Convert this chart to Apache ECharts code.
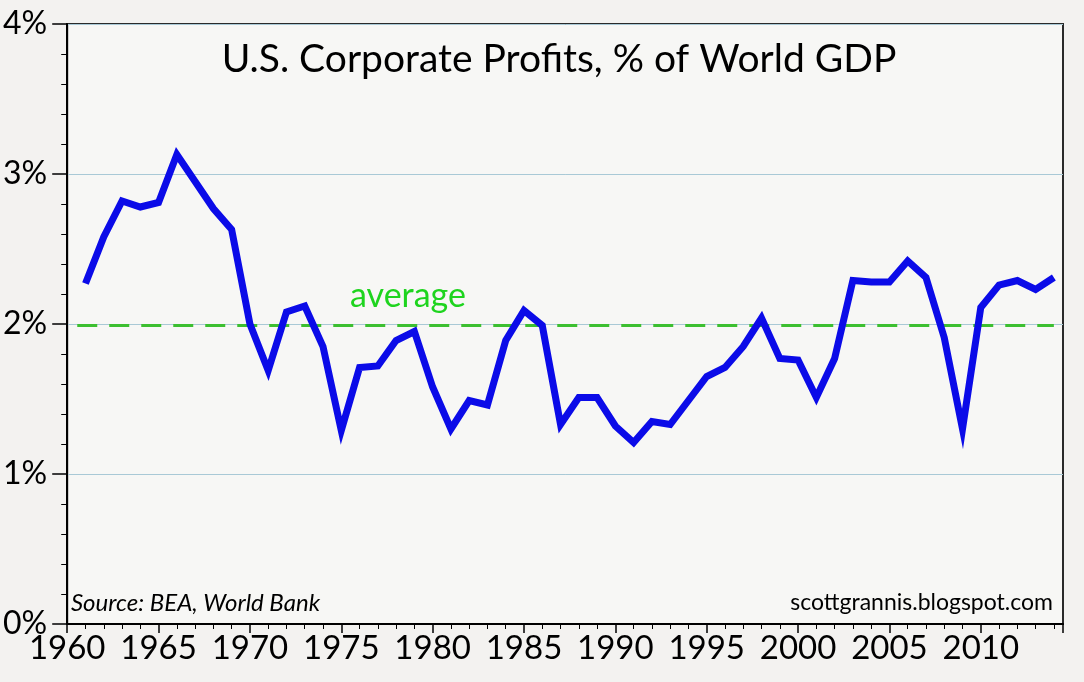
<!DOCTYPE html>
<html>
<head>
<meta charset="utf-8">
<script src="https://cdn.jsdelivr.net/npm/echarts@6/dist/echarts.min.js"></script>
<style>
  html, body { margin: 0; padding: 0; background: #f3f2f0; }
  #chart { width: 1084px; height: 682px; }
</style>
</head>
<body>
<div id="chart"></div>
<script>
// values, % of world GDP, one per year from 1961
const firstYear = 1961;
const profitShare = [
  2.27, 2.58, 2.82, 2.78, 2.81, 3.13, 2.95, 2.77, 2.63, 2.00,
  1.69, 2.08, 2.12, 1.85, 1.29, 1.71, 1.72, 1.89, 1.95, 1.58,
  1.30, 1.49, 1.46, 1.89, 2.09, 1.99, 1.33, 1.51, 1.51, 1.32,
  1.21, 1.35, 1.33, 1.49, 1.65, 1.71, 1.85, 2.04, 1.77, 1.76,
  1.51, 1.77, 2.29, 2.28, 2.28, 2.42, 2.31, 1.91, 1.30, 2.11,
  2.26, 2.29, 2.23, 2.31
];
const years = profitShare.map((v, i) => firstYear + i);

// dashed average line
const averageValue = 1.99;
const averageSpan = [1960.55, 2014];

const titleText = "U.S. Corporate Profits, % of World GDP";
const sourceText = "Source: BEA, World Bank";
const siteText = "scottgrannis.blogspot.com";
const averageText = "average";

const FONT = "Lato, 'Open Sans', sans-serif";

const chart = echarts.init(document.getElementById("chart"), null, { renderer: "canvas" });

const option = {
  backgroundColor: "#f3f2f0",
  animation: false,
  grid: {
    left: 63, right: 21, top: 24, bottom: 58,
    show: true,
    backgroundColor: "#f7f7f5",
    borderColor: "#2a2a2a",
    borderWidth: 2
  },
  xAxis: {
    type: "value",
    min: 1960,
    max: 2014.5,
    interval: 5,
    axisLine: { show: true, onZero: false, lineStyle: { color: "#000", width: 2 } },
    axisTick: { show: true, inside: false, length: 9, lineStyle: { color: "#000", width: 1.5 } },
    minorTick: { show: true, splitNumber: 5, length: 5, lineStyle: { color: "#000", width: 1 } },
    splitLine: { show: false },
    axisLabel: {
      color: "#000", fontFamily: FONT, fontSize: 33, margin: 8,
      showMaxLabel: false,
      formatter: v => String(v)
    }
  },
  yAxis: {
    type: "value",
    min: 0,
    max: 4,
    interval: 1,
    axisLine: { show: true, lineStyle: { color: "#000", width: 2 } },
    axisTick: { show: true, inside: false, length: 15, lineStyle: { color: "#000", width: 1.5 } },
    minorTick: { show: true, splitNumber: 5, length: 6, lineStyle: { color: "#000", width: 1 } },
    splitLine: { show: true, lineStyle: { color: "#a9c9d6", width: 1 } },
    axisLabel: {
      color: "#000", fontFamily: FONT, fontSize: 32, margin: 20,
      formatter: "{value}%"
    }
  },
  series: [
    {
      name: "average",
      type: "line",
      data: averageSpan.map(x => [x, averageValue]),
      symbol: "none",
      lineStyle: { color: "#3cbf30", width: 3, type: [20, 12] },
      z: 2
    },
    {
      name: "profits",
      type: "line",
      data: years.map((y, i) => [y, profitShare[i]]),
      symbol: "none",
      lineStyle: { color: "#0b0be8", width: 7, join: "miter" },
      z: 3
    }
  ],
  graphic: [
    {
      type: "text", x: 559, y: 59,
      style: { text: titleText, fill: "#000", font: "39px " + FONT, align: "center", verticalAlign: "middle" }
    },
    {
      type: "text", x: 408, y: 296,
      style: { text: averageText, fill: "#1ed41e", font: "34px " + FONT, align: "center", verticalAlign: "middle" }
    },
    {
      type: "text", x: 71, y: 603,
      style: { text: sourceText, fill: "#000", font: "italic 24px " + FONT, align: "left", verticalAlign: "middle" }
    },
    {
      type: "text", x: 1053, y: 603,
      style: { text: siteText, fill: "#000", font: "23px " + FONT, align: "right", verticalAlign: "middle" }
    }
  ]
};

chart.setOption(option);
</script>
</body>
</html>
